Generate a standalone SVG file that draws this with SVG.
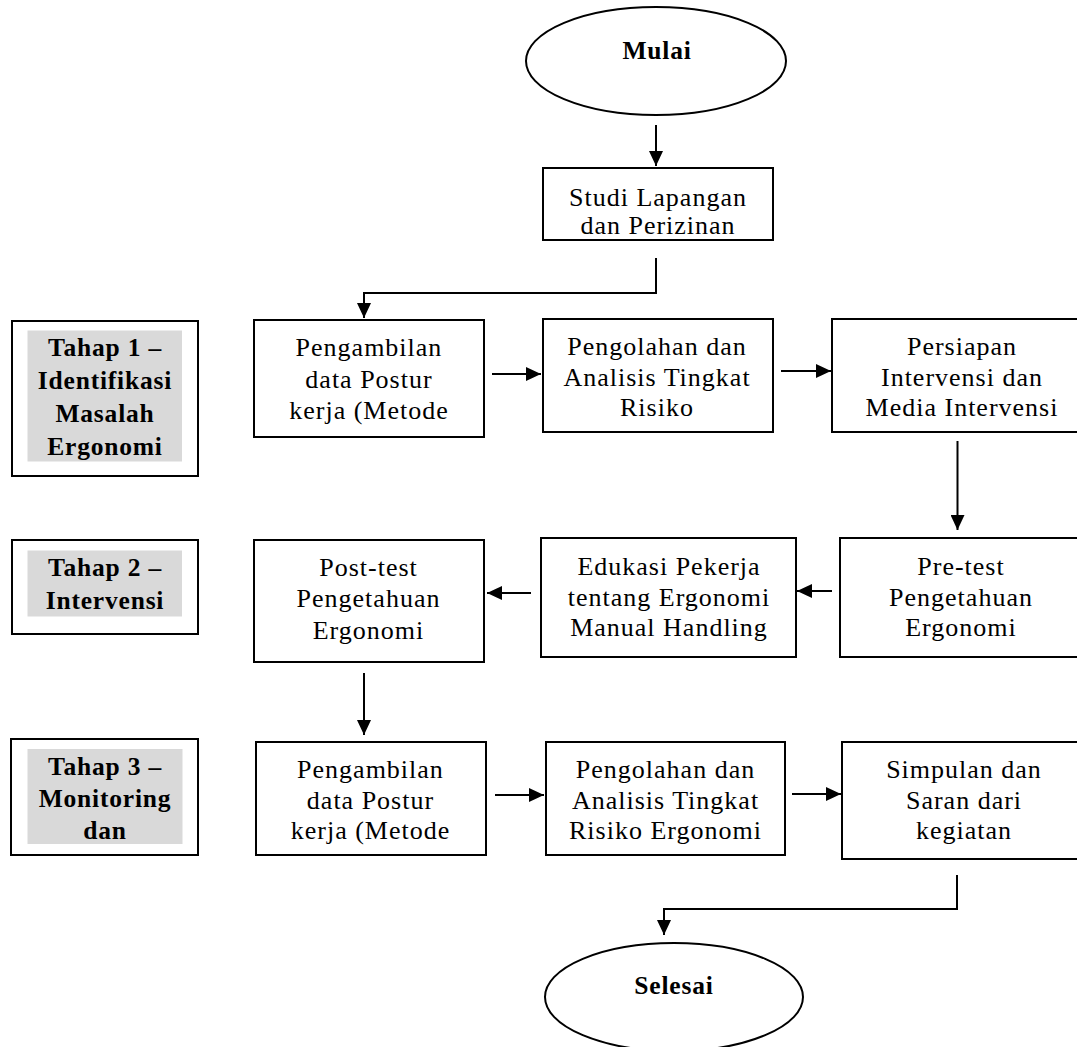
<svg xmlns="http://www.w3.org/2000/svg" width="1077" height="1047" viewBox="0 0 1077 1047">
<style>
.box{fill:#fff;stroke:#000;stroke-width:2}
.hl{fill:#d9d9d9;stroke:none}
.t{font-family:"Liberation Serif","Times New Roman",serif;font-size:26px;letter-spacing:1px;text-anchor:middle;fill:#000}
.b{font-family:"Liberation Serif","Times New Roman",serif;font-size:25.5px;font-weight:bold;letter-spacing:0.8px;text-anchor:middle;fill:#000}
.c{fill:none;stroke:#000;stroke-width:2}
</style>
<defs>
<marker id="ah" markerUnits="userSpaceOnUse" markerWidth="16" markerHeight="14" refX="15" refY="7" orient="auto">
<path d="M0,0 L15,7 L0,14 z" fill="#000"/>
</marker>
</defs>
<rect width="1077" height="1047" fill="#fff"/>

<g id="connectors">
<path class="c" d="M656,125 V166" marker-end="url(#ah)"/>
<path class="c" d="M656,258 V293 H364 V318" marker-end="url(#ah)"/>
<path class="c" d="M492,374 H541" marker-end="url(#ah)"/>
<path class="c" d="M781,371 H831" marker-end="url(#ah)"/>
<path class="c" d="M957.5,441 V530" marker-end="url(#ah)"/>
<path class="c" d="M832,591 H797" marker-end="url(#ah)"/>
<path class="c" d="M531,593 H487" marker-end="url(#ah)"/>
<path class="c" d="M364,673 V735" marker-end="url(#ah)"/>
<path class="c" d="M495,795 H544" marker-end="url(#ah)"/>
<path class="c" d="M792,794 H841" marker-end="url(#ah)"/>
<path class="c" d="M957,875 V909 H664 V935" marker-end="url(#ah)"/>
</g>

<g id="mulai">
<ellipse class="box" cx="656" cy="61" rx="130" ry="54"/>
<text class="b" x="657" y="59">Mulai</text>
</g>

<g id="studi">
<rect class="box" x="543" y="168" width="230" height="72"/>
<text class="t" x="658" y="206">Studi Lapangan</text>
<text class="t" x="658" y="234">dan Perizinan</text>
</g>

<g id="tahap1">
<rect class="box" x="12" y="321" width="186" height="155"/>
<rect class="hl" x="27.5" y="330.5" width="154.5" height="131"/>
<text class="b" x="105" y="356">Tahap 1 –</text>
<text class="b" x="105" y="389">Identifikasi</text>
<text class="b" x="105" y="422">Masalah</text>
<text class="b" x="105" y="455">Ergonomi</text>
</g>

<g id="pengambilan1">
<rect class="box" x="254" y="320" width="230" height="117"/>
<text class="t" x="369" y="356">Pengambilan</text>
<text class="t" x="369" y="388">data Postur</text>
<text class="t" x="369" y="419">kerja (Metode</text>
</g>

<g id="pengolahan1">
<rect class="box" x="543" y="319" width="230" height="113"/>
<text class="t" x="657" y="355">Pengolahan dan</text>
<text class="t" x="657" y="386">Analisis Tingkat</text>
<text class="t" x="657" y="416">Risiko</text>
</g>

<g id="persiapan">
<rect class="box" x="832" y="319" width="260" height="113"/>
<text class="t" x="962" y="355">Persiapan</text>
<text class="t" x="962" y="386">Intervensi dan</text>
<text class="t" x="962" y="416">Media Intervensi</text>
</g>

<g id="tahap2">
<rect class="box" x="12" y="540" width="186" height="94"/>
<rect class="hl" x="27.5" y="550.5" width="154.5" height="66"/>
<text class="b" x="105" y="576">Tahap 2 –</text>
<text class="b" x="105" y="609">Intervensi</text>
</g>

<g id="posttest">
<rect class="box" x="254" y="540" width="230" height="122"/>
<text class="t" x="368.5" y="576">Post-test</text>
<text class="t" x="368.5" y="607">Pengetahuan</text>
<text class="t" x="368.5" y="639">Ergonomi</text>
</g>

<g id="edukasi">
<rect class="box" x="541" y="538" width="255" height="119"/>
<text class="t" x="669" y="575">Edukasi Pekerja</text>
<text class="t" x="669" y="606">tentang Ergonomi</text>
<text class="t" x="669" y="636">Manual Handling</text>
</g>

<g id="pretest">
<rect class="box" x="840" y="538" width="260" height="119"/>
<text class="t" x="961" y="575">Pre-test</text>
<text class="t" x="961" y="606">Pengetahuan</text>
<text class="t" x="961" y="636">Ergonomi</text>
</g>

<g id="tahap3">
<rect class="box" x="11" y="739" width="187" height="116"/>
<rect class="hl" x="27.5" y="749" width="155" height="95"/>
<text class="b" x="105" y="775">Tahap 3 –</text>
<text class="b" x="105" y="807">Monitoring</text>
<text class="b" x="105" y="839">dan</text>
</g>

<g id="pengambilan2">
<rect class="box" x="256" y="742" width="230" height="113"/>
<text class="t" x="370.5" y="778">Pengambilan</text>
<text class="t" x="370.5" y="809">data Postur</text>
<text class="t" x="370.5" y="839">kerja (Metode</text>
</g>

<g id="pengolahan2">
<rect class="box" x="546" y="742" width="239" height="113"/>
<text class="t" x="665.5" y="778">Pengolahan dan</text>
<text class="t" x="665.5" y="809">Analisis Tingkat</text>
<text class="t" x="665.5" y="839">Risiko Ergonomi</text>
</g>

<g id="simpulan">
<rect class="box" x="842" y="742" width="260" height="117"/>
<text class="t" x="964" y="778">Simpulan dan</text>
<text class="t" x="964" y="809">Saran dari</text>
<text class="t" x="964" y="839">kegiatan</text>
</g>

<g id="selesai">
<ellipse class="box" cx="674" cy="997" rx="129" ry="54"/>
<text class="b" x="674" y="994">Selesai</text>
</g>
</svg>
